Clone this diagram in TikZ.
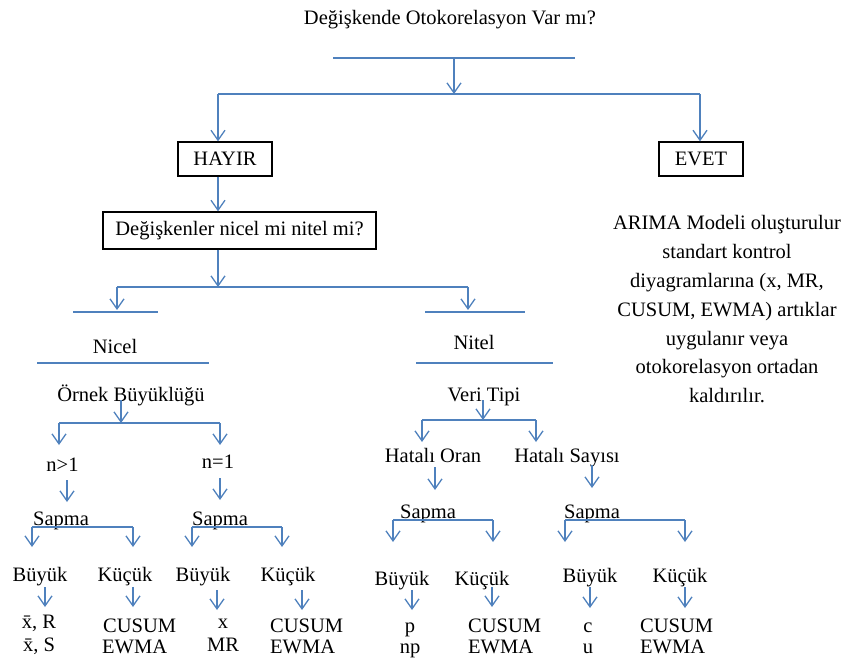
\documentclass[tikz,border=0pt]{standalone}
\usepackage{fontspec}
\setmainfont{Liberation Serif}
\usetikzlibrary{arrows.meta}
\definecolor{lnblue}{RGB}{79,129,189}
\begin{document}
\begin{tikzpicture}[x=1pt,y=-1pt,
  txt/.style={inner sep=0pt, anchor=base, font=\fontsize{20.5}{24}\selectfont},
  ltxt/.style={txt, anchor=base west},
  box/.style={draw=black, line width=1.3pt, inner sep=0pt, font=\fontsize{20.5}{24}\selectfont},
  ln/.style={draw=lnblue, line width=1.3pt},
  arr/.style={ln, -{Straight Barb[length=10pt,width=14pt,line width=1.3pt]}}]
\useasboundingbox (0,0) rectangle (846,660);

% ---- texts and boxes
\node[txt] (title) at (450,25) {Değişkende Otokorelasyon Var mı?};
\node[box, minimum width=94pt, minimum height=34pt] (hayir) at (225,159) {HAYIR};
\node[box, minimum width=84pt, minimum height=34pt] (evet) at (701,159) {EVET};
\node[box, minimum width=273pt, minimum height=37pt] (soru) at (239.5,230.5) {Değişkenler nicel mi nitel mi?};
\node[inner sep=0pt, anchor=north, align=center, font=\fontsize{20.5}{28.8}\selectfont] (arima) at (727,215.5)
  {ARIMA Modeli oluşturulur\\ standart kontrol\\ diyagramlarına (x, MR,\\ CUSUM, EWMA) artıklar\\ uygulanır veya\\ otokorelasyon ortadan\\ kaldırılır.};

\node[txt] (nicel) at (115,353) {Nicel};
\node[txt] (nitel) at (474,349) {Nitel};
\node[txt] (ornek) at (131,401) {Örnek Büyüklüğü};
\node[txt] (veri) at (484,401) {Veri Tipi};
\node[txt] (nb) at (62.5,471) {n>1};
\node[txt] (ne) at (218,468) {n=1};
\node[txt] (horan) at (433,462) {Hatalı Oran};
\node[txt] (hsay) at (567,462) {Hatalı Sayısı};

\node[txt] (sap1) at (61,525) {Sapma};
\node[txt] (sap2) at (220,525) {Sapma};
\node[txt] (sap3) at (428,518) {Sapma};
\node[txt] (sap4) at (592,518) {Sapma};

\node[txt] (by1) at (40,581) {Büyük};
\node[txt] (kc1) at (125,581) {Küçük};
\node[txt] (by2) at (203,581) {Büyük};
\node[txt] (kc2) at (288,581) {Küçük};
\node[txt] (by3) at (402,585) {Büyük};
\node[txt] (kc3) at (482,585) {Küçük};
\node[txt] (by4) at (590,582) {Büyük};
\node[txt] (kc4) at (680,582) {Küçük};

\node[txt] (l1a) at (39,628) {x̄, R};
\node[txt] (l1b) at (39,651) {x̄, S};
\node[ltxt] (l2a) at (103,632) {CUSUM};
\node[ltxt] (l2b) at (102,653) {EWMA};
\node[txt] (l3a) at (223,628) {x};
\node[txt] (l3b) at (223,651) {MR};
\node[ltxt] (l4a) at (270,632) {CUSUM};
\node[ltxt] (l4b) at (270,653) {EWMA};
\node[txt] (l5a) at (410,632) {p};
\node[txt] (l5b) at (410,653) {np};
\node[ltxt] (l6a) at (468,632) {CUSUM};
\node[ltxt] (l6b) at (468,653) {EWMA};
\node[txt] (l7a) at (588,632) {c};
\node[txt] (l7b) at (588,653) {u};
\node[ltxt] (l8a) at (640,632) {CUSUM};
\node[ltxt] (l8b) at (640,653) {EWMA};

% ---- connectors
\coordinate (t1) at (333,58); \coordinate (t2) at (575,58);
\draw[ln] (t1) -- (t2);
\coordinate (t3) at (454,58); \coordinate (t4) at (454,94);
\draw[arr] (t3) -- (t4);
\coordinate (b1) at (218,94); \coordinate (b2) at (700,94);
\draw[ln] (b1) -- (b2);
\draw[arr] (b1) -- (b1 |- hayir.north);
\draw[arr] (b2) -- (b2 |- evet.north);
\draw[arr] (hayir.south -| b1) -- (soru.north -| b1);
\coordinate (c1) at (117,287); \coordinate (c2) at (468,287);
\draw[arr] (soru.south -| b1) -- (b1 |- c1);
\draw[ln] (c1) -- (c2);
\draw[arr] (c1) -- ++(0,23);
\draw[arr] (c2) -- ++(0,23);

\coordinate (u1) at (73,312); \coordinate (u2) at (158,312);
\coordinate (u3) at (425,312); \coordinate (u4) at (525,312);
\draw[ln] (u1) -- (u2); \draw[ln] (u3) -- (u4);
\coordinate (m1) at (37,363); \coordinate (m2) at (209,363);
\coordinate (m3) at (416,363); \coordinate (m4) at (553,363);
\draw[ln] (m1) -- (m2); \draw[ln] (m3) -- (m4);

% Ornek Buyuklugu branch
\coordinate (o0) at (121,400); \coordinate (o1) at (59,423); \coordinate (o2) at (220,423);
\draw[arr] (o0) -- (o0 |- o1);
\draw[ln] (o1) -- (o2);
\draw[arr] (o1) -- ++(0,22);
\draw[arr] (o2) -- ++(0,22);
% Veri Tipi branch
\coordinate (v0) at (483,400); \coordinate (v1) at (422,420); \coordinate (v2) at (536,420);
\draw[arr] (v0) -- (v0 |- v1);
\draw[ln] (v1) -- (v2);
\draw[arr] (v1) -- ++(0,22);
\draw[arr] (v2) -- ++(0,22);

% down to Sapma
\coordinate (d1) at (67,480); \draw[arr] (d1) -- ++(0,22);
\coordinate (d2) at (220,478); \draw[arr] (d2) -- ++(0,22);
\coordinate (d3) at (435,467); \draw[arr] (d3) -- ++(0,23);
\coordinate (d4) at (592,465); \draw[arr] (d4) -- ++(0,23);

% Sapma bars
\coordinate (s1a) at (32,527); \coordinate (s1b) at (133,527);
\coordinate (s2a) at (192,527); \coordinate (s2b) at (282,527);
\coordinate (s3a) at (393,520); \coordinate (s3b) at (493,520);
\coordinate (s4a) at (565,520); \coordinate (s4b) at (685,520);
\draw[ln] (s1a) -- (s1b); \draw[arr] (s1a) -- ++(0,20); \draw[arr] (s1b) -- ++(0,20);
\draw[ln] (s2a) -- (s2b); \draw[arr] (s2a) -- ++(0,20); \draw[arr] (s2b) -- ++(0,20);
\draw[ln] (s3a) -- (s3b); \draw[arr] (s3a) -- ++(0,22); \draw[arr] (s3b) -- ++(0,22);
\draw[ln] (s4a) -- (s4b); \draw[arr] (s4a) -- ++(0,22); \draw[arr] (s4b) -- ++(0,22);

% down to leaves
\coordinate (e1) at (45,587);  \draw[arr] (e1) -- ++(0,20);
\coordinate (e2) at (133,587); \draw[arr] (e2) -- ++(0,20);
\coordinate (e3) at (217,590); \draw[arr] (e3) -- ++(0,20);
\coordinate (e4) at (302,590); \draw[arr] (e4) -- ++(0,20);
\coordinate (e5) at (412,590); \draw[arr] (e5) -- ++(0,20);
\coordinate (e6) at (492,587); \draw[arr] (e6) -- ++(0,20);
\coordinate (e7) at (590,587); \draw[arr] (e7) -- ++(0,21);
\coordinate (e8) at (685,587); \draw[arr] (e8) -- ++(0,21);
\end{tikzpicture}
\end{document}
